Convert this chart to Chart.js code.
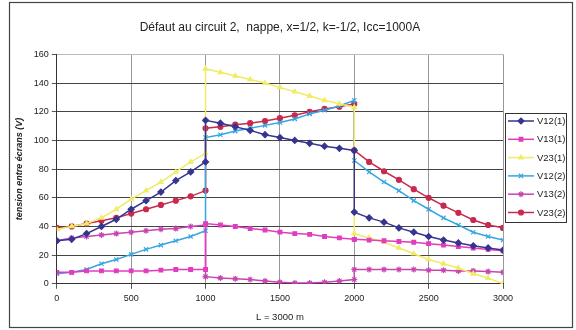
<!DOCTYPE html>
<html>
<head>
<meta charset="utf-8">
<script src="https://cdn.jsdelivr.net/npm/chart.js@4/dist/chart.umd.min.js"></script>
<style>
  html, body { margin: 0; padding: 0; background: #fff; }
  #wrap { position: relative; width: 576px; height: 330px; }
</style>
</head>
<body>
<div id="wrap"><canvas id="graf" width="576" height="330"></canvas></div>
<script>
// Positions le long du câble (m) — points doublés à 1000 et 2000 (discontinuités)
const POSITIONS = [
  0, 100, 200, 300, 400, 500, 600, 700, 800, 900, 1000,
  1000, 1100, 1200, 1300, 1400, 1500, 1600, 1700, 1800, 1900, 2000,
  2000, 2100, 2200, 2300, 2400, 2500, 2600, 2700, 2800, 2900, 3000
];

const V12_1 = [30, 31, 35, 40, 45, 52, 58, 64, 72, 78, 85,
  114, 112, 109.5, 107, 104, 102, 100, 98, 96, 94.5, 93,
  50, 46, 43, 39, 36, 33, 30.5, 28.5, 26.5, 25, 23.5];
const V13_1 = [8, 8, 9, 9, 9, 9, 9, 9.5, 10, 10, 10,
  42, 41, 40, 38.5, 37.5, 36, 35, 34.5, 33, 32, 31,
  31, 30.5, 30, 29.5, 29, 28, 27, 26, 25, 24, 23];
const V23_1 = [38, 40, 42, 46, 52, 59, 65, 71, 78, 85, 91,
  150, 147.5, 145, 142.5, 140, 137, 134, 131, 128, 125.5, 123,
  35, 32, 29, 25, 21, 17, 14, 11, 7, 4, 0];
const V12_2 = [7, 8, 10, 14, 17, 20.5, 24, 27, 30, 33, 37,
  102, 104, 106.5, 108.5, 110.5, 112.5, 115, 118.5, 121, 124, 128,
  86, 78, 71, 65, 58, 52, 46, 41, 36, 33, 30.5];
const V13_2 = [30, 32, 33, 34, 35, 36, 37, 38, 38.5, 40, 41,
  5, 4, 3.5, 3, 2, 1, 0.5, 0.5, 1, 2, 3,
  10, 10, 10, 10, 10, 9.5, 9.5, 9, 9, 8.5, 8];
const V23_2 = [39, 40, 42, 44, 46, 49, 52, 55, 58, 61, 65,
  108.5, 109.5, 111, 112, 113.5, 115.5, 117.5, 120, 122, 123.5, 125.5,
  93, 85, 78.5, 72.5, 66, 60, 54.5, 49.5, 44.5, 41, 39];

const SERIES = ['V12(1)', 'V13(1)', 'V23(1)', 'V12(2)', 'V13(2)', 'V23(2)'];
const VALEURS = [V12_1, V13_1, V23_1, V12_2, V13_2, V23_2];
const COULEURS = ['#35358f', '#e23cbe', '#f0ec66', '#34a6e0', '#c844b2', '#c82a4e'];
const MARQUEURS = ['rectRot', 'rect', 'triangle', 'crossRot', 'star', 'circle'];
const RAYONS = [3, 2.6, 2.6, 3, 3, 2.5];

const TITRE = 'Défaut au circuit 2,  nappe, x=1/2, k=-1/2, Icc=1000A';
const TITRE_Y = 'tension entre écrans (V)';
const TITRE_X = 'L = 3000 m';

const POLICE = "'Liberation Sans', Arial, sans-serif";

const datasets = SERIES.map((nom, i) => ({
  label: nom,
  data: POSITIONS.map((x, j) => ({ x, y: VALEURS[i][j] })),
  borderColor: COULEURS[i],
  backgroundColor: COULEURS[i],
  pointBorderColor: COULEURS[i],
  pointBackgroundColor: COULEURS[i],
  pointStyle: MARQUEURS[i],
  pointRadius: RAYONS[i],
  pointBorderWidth: 1.2,
  borderWidth: 1.5,
  tension: 0,
}));

// cadre extérieur + légende encadrée (dessinés à la main)
const cadreEtLegende = {
  id: 'cadreEtLegende',
  beforeDraw(chart) {
    const ctx = chart.ctx;
    ctx.save();
    ctx.fillStyle = '#fff';
    ctx.fillRect(0, 0, chart.width, chart.height);
    ctx.strokeStyle = '#444';
    ctx.lineWidth = 1.2;
    ctx.strokeRect(9.5, 2.5, 563, 325);
    ctx.restore();
  },
  afterDraw(chart) {
    const ctx = chart.ctx;
    const a = chart.chartArea;
    const x0 = a.right + 2, y0 = 113, w = 61, pas = 18.3;
    ctx.save();
    ctx.strokeStyle = '#333';
    ctx.lineWidth = 1;
    ctx.strokeRect(x0 + 0.5, y0 + 0.5, w, 109);
    ctx.font = `9.5px ${POLICE}`;
    ctx.textBaseline = 'middle';
    chart.data.datasets.forEach((ds, i) => {
      const y = y0 + 8 + i * pas;
      ctx.strokeStyle = ds.borderColor;
      ctx.lineWidth = 1.5;
      ctx.beginPath();
      ctx.moveTo(x0 + 3, y);
      ctx.lineTo(x0 + 29, y);
      ctx.stroke();
      ctx.fillStyle = ds.pointBackgroundColor;
      ctx.strokeStyle = ds.pointBorderColor;
      ctx.lineWidth = 1.2;
      Chart.helpers.drawPoint(ctx, { pointStyle: ds.pointStyle, radius: ds.pointRadius, borderWidth: 1.2 }, x0 + 16, y);
      ctx.fillStyle = '#222';
      ctx.fillText(ds.label, x0 + 32, y + 0.5);
    });
    ctx.restore();
  }
};

new Chart(document.getElementById('graf'), {
  type: 'line',
  data: { datasets },
  plugins: [cadreEtLegende],
  options: {
    responsive: false,
    animation: false,
    devicePixelRatio: 1,
    layout: { padding: { left: 12, right: 73, top: 10, bottom: 5 } },
    plugins: {
      legend: { display: false },
      tooltip: { enabled: false },
      title: {
        display: true,
        text: TITRE,
        fullSize: false,
        color: '#222',
        font: { family: POLICE, size: 12, weight: 'normal' },
        padding: { top: 10, bottom: 20 },
      },
    },
    scales: {
      x: {
        type: 'linear',
        min: 0, max: 3000,
        ticks: { stepSize: 500, color: '#222', font: { family: POLICE, size: 9 }, padding: 4, maxRotation: 0, callback: v => String(v) },
        grid: { color: '#999', tickLength: 5, tickColor: '#555' },
        border: { color: '#333', width: 1 },
        title: { display: true, text: TITRE_X, color: '#222', font: { family: POLICE, size: 9.5 }, padding: { top: 4, bottom: 2 } },
      },
      y: {
        min: 0, max: 160,
        ticks: { stepSize: 20, color: '#222', font: { family: POLICE, size: 9 }, padding: 3, callback: v => String(v) },
        grid: { color: ctx => ctx.tick && ctx.tick.value === 160 ? '#bbb' : '#444', tickLength: 5, tickColor: '#555' },
        border: { color: '#333', width: 1 },
        title: { display: true, text: TITRE_Y, color: '#222', font: { family: POLICE, size: 9, weight: 'bold', style: 'italic' }, padding: { top: 2, bottom: 6 } },
      },
    },
  },
});
</script>
</body>
</html>
